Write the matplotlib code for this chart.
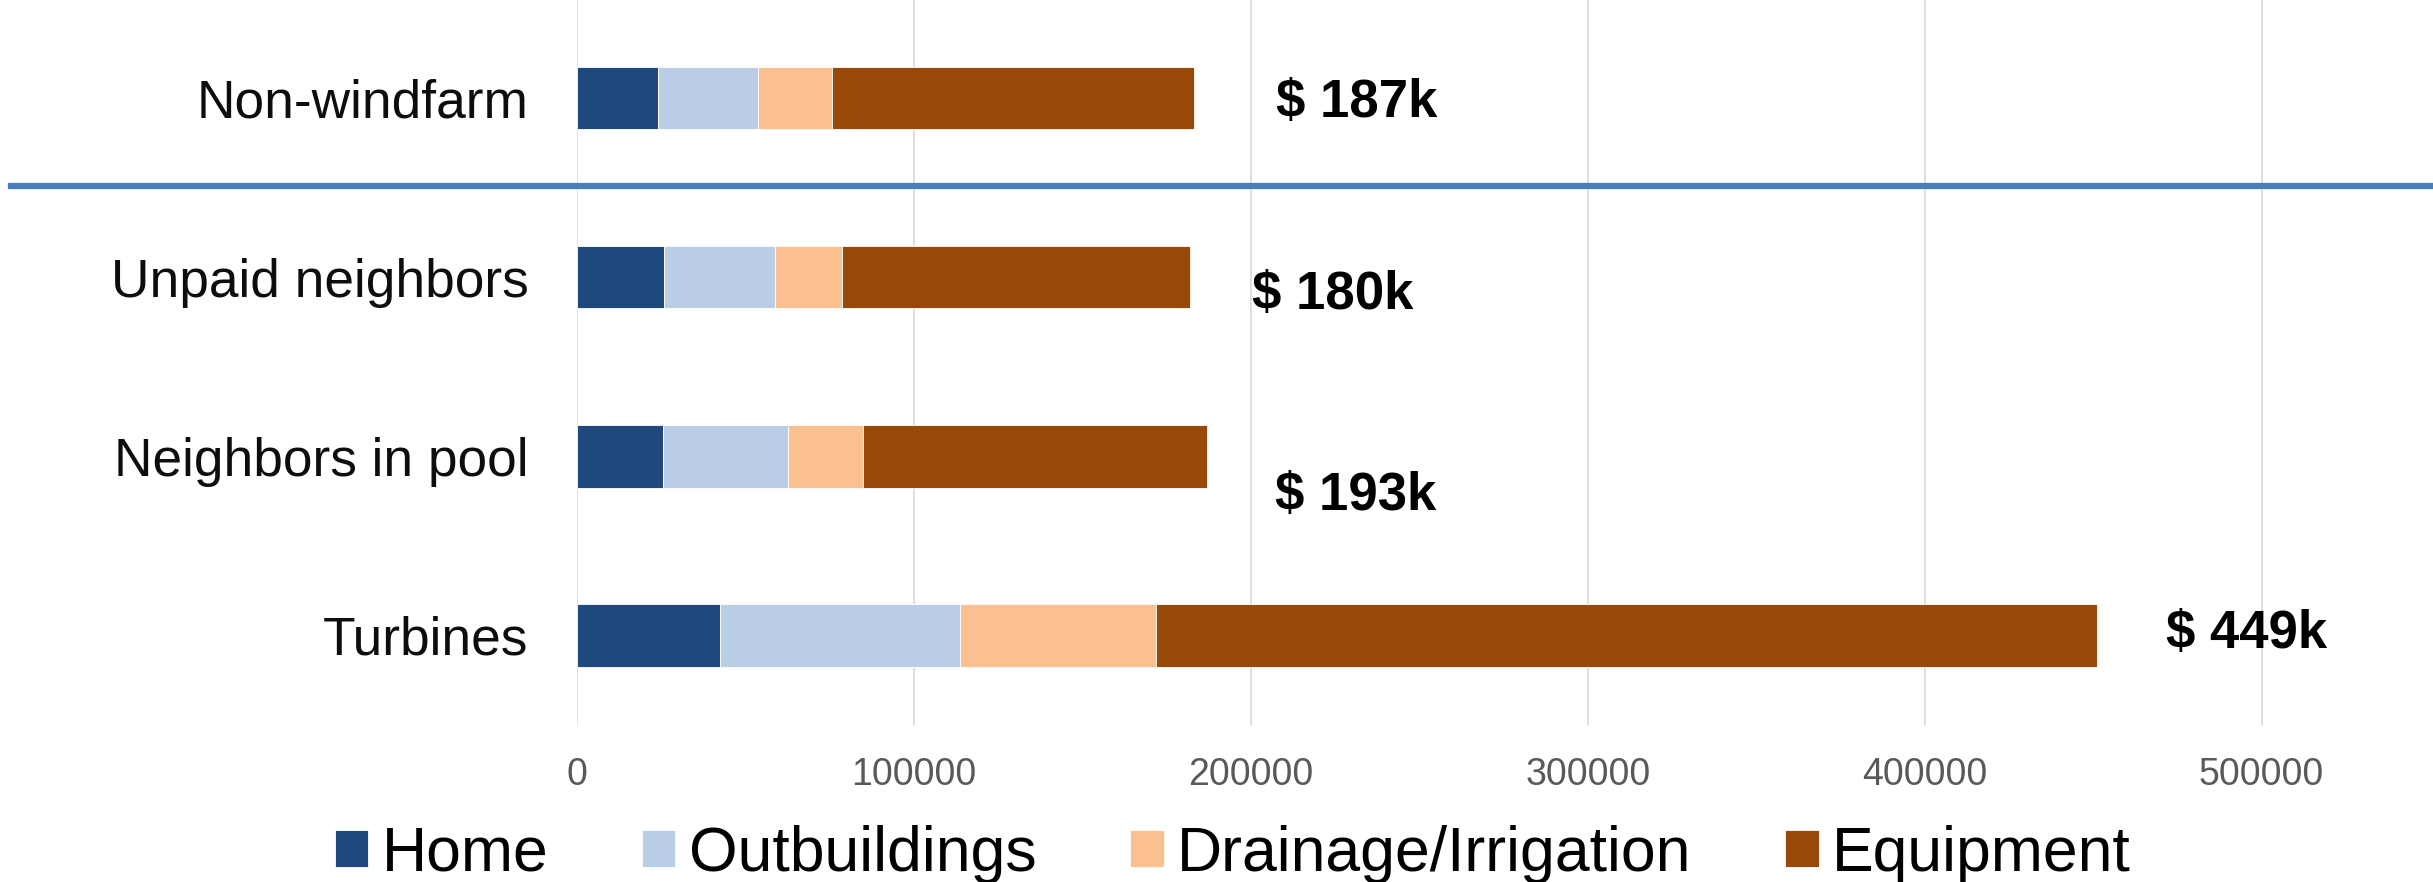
import matplotlib
matplotlib.use("Agg")
import matplotlib.pyplot as plt
import numpy as np

plt.rcParams['font.family'] = ['Liberation Sans', 'DejaVu Sans']

categories = ["Non-windfarm", "Unpaid neighbors", "Neighbors in pool", "Turbines"]
home = [24100, 25900, 25500, 42400]
outbuildings = [29700, 32900, 37000, 71400]
drainage = [22000, 19800, 22400, 58100]
equipment = [107400, 103200, 102000, 279300]
series_names = ["Home", "Outbuildings", "Drainage/Irrigation", "Equipment"]
total_labels = ["$ 187k", "$ 180k", "$ 193k", "$ 449k"]
xticks = [0, 100000, 200000, 300000, 400000, 500000]

colors = ["#1f497d", "#b9cde5", "#fac090", "#984807"]
# label placement (layout only)
label_x = [207500, 200400, 207300, 471600]
label_y = [0.03, 1.10, 2.22, 2.99]

W, H, DPI = 2433, 882, 100
fig = plt.figure(figsize=(W / DPI, H / DPI), dpi=DPI)
ax = fig.add_axes([577 / W, 1 - 725 / H, (2430 - 577) / W, 725 / H])

ypos = np.arange(len(categories))
left = np.zeros(len(categories))
for vals, name, c in zip([home, outbuildings, drainage, equipment], series_names, colors):
    ax.barh(ypos, vals, left=left, height=0.35, color=c, label=name,
            edgecolor='white', linewidth=0.6, zorder=3)
    left = left + np.array(vals)

ax.set_xlim(0, 550000)
ax.set_ylim(3.5, -0.547)
ax.set_yticks(ypos)
ax.set_yticklabels(categories, fontsize=38.3, color='#0d0d0d')
ax.set_xticks(xticks)
ax.set_xticklabels([str(t) for t in xticks], fontsize=27, color='#595959')
ax.tick_params(axis='both', length=0)
ax.tick_params(axis='y', pad=35)
ax.tick_params(axis='x', pad=23)
ax.grid(axis='x', color='#d9d9d9', linewidth=1.2, zorder=0)
ax.grid(axis='y', visible=False)
for s in ax.spines.values():
    s.set_visible(False)

for lx, ly, txt in zip(label_x, label_y, total_labels):
    ax.text(lx, ly, txt, fontsize=38, fontweight='bold', ha='left', va='center',
            color='black', zorder=4)

# separator line between Non-windfarm and the windfarm groups
ax.axhline(0.49, xmin=(11 - 577) / (2430 - 577), xmax=1.01, color='#4a7ebb',
           linewidth=4.5, clip_on=False, zorder=5)

handles, labels = ax.get_legend_handles_labels()
fig.legend(handles, labels, loc='center', bbox_to_anchor=(1233 / W, 1 - 854 / H),
           ncol=4, frameon=False, fontsize=45, handlelength=0.53, handleheight=0.53,
           handletextpad=0.22, columnspacing=1.5, borderpad=0, borderaxespad=0)

fig.savefig("out.png", dpi=DPI)
